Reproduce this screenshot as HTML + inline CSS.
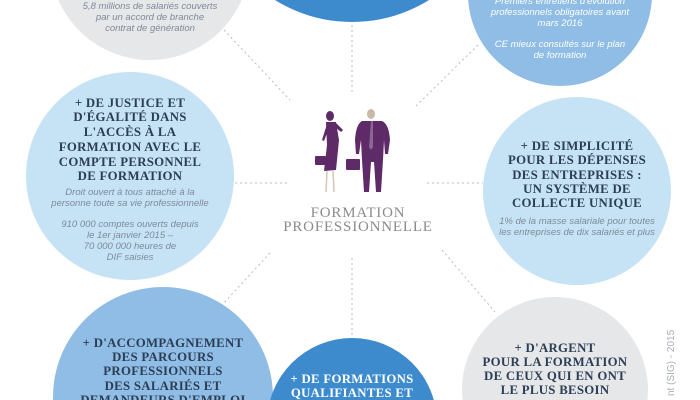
<!DOCTYPE html>
<html><head><meta charset="utf-8"><style>
html,body{margin:0;padding:0;background:#fff;width:700px;height:400px;overflow:hidden}
svg{display:block;overflow:hidden}
.h{font-family:"Liberation Serif",serif;font-weight:bold;font-size:12.8px;fill:#2c3e55;text-anchor:middle;letter-spacing:0.3px}
.hw{fill:#fff}
.i{font-family:"Liberation Sans",sans-serif;font-style:italic;font-size:9.5px;fill:#7d8a99;text-anchor:middle}
.iw{fill:#fff}
.d{stroke:#b8bcc2;stroke-width:1;stroke-dasharray:2,3;fill:none}
</style></head><body>
<svg width="700" height="400" viewBox="0 0 700 400" xmlns="http://www.w3.org/2000/svg">
<line class="d" x1="224" y1="30" x2="290" y2="100"/>
<line class="d" x1="352" y1="25" x2="352" y2="95"/>
<line class="d" x1="478" y1="45" x2="415" y2="107"/>
<line class="d" x1="235" y1="183" x2="290" y2="183"/>
<line class="d" x1="427" y1="183" x2="483" y2="183"/>
<line class="d" x1="270" y1="253" x2="222" y2="305"/>
<line class="d" x1="352" y1="258" x2="352" y2="335"/>
<line class="d" x1="442" y1="250" x2="495" y2="312"/>

<circle cx="150" cy="-40" r="100" fill="#e6e7e9"/>
<circle cx="352" cy="-124" r="146" fill="#3d8bcd"/>
<circle cx="560" cy="-6" r="92" fill="#8fbde6"/>
<circle cx="130" cy="176" r="104" fill="#c6e3f6"/>
<circle cx="577" cy="191" r="94" fill="#c6e3f6"/>
<circle cx="163" cy="397" r="110" fill="#8fbde6"/>
<circle cx="352" cy="423" r="85" fill="#3d8bcd"/>
<circle cx="555" cy="390" r="93" fill="#e6e7e9"/>

<text class="i" x="150" y="9">5,8 millions de salariés couverts</text>
<text class="i" x="150" y="20">par un accord de branche</text>
<text class="i" x="150" y="31">contrat de génération</text>

<text class="i iw" x="560" y="4">Premiers entretiens d'évolution</text>
<text class="i iw" x="560" y="15">professionnels obligatoires avant</text>
<text class="i iw" x="560" y="26">mars 2016</text>
<text class="i iw" x="560" y="47">CE mieux consultés sur le plan</text>
<text class="i iw" x="560" y="58">de formation</text>

<text class="h" x="130" y="107">+ DE JUSTICE ET</text>
<text class="h" x="130" y="121">D'ÉGALITÉ DANS</text>
<text class="h" x="130" y="136">L'ACCÈS À LA</text>
<text class="h" x="130" y="151">FORMATION AVEC LE</text>
<text class="h" x="130" y="166">COMPTE PERSONNEL</text>
<text class="h" x="130" y="180">DE FORMATION</text>
<text class="i" x="130" y="195">Droit ouvert à tous attaché à la</text>
<text class="i" x="130" y="206">personne toute sa vie professionnelle</text>
<text class="i" x="130" y="227">910 000 comptes ouverts depuis</text>
<text class="i" x="130" y="238">le 1er janvier 2015 –</text>
<text class="i" x="130" y="249">70 000 000 heures de</text>
<text class="i" x="130" y="260">DIF saisies</text>

<text class="h" x="577" y="150">+ DE SIMPLICITÉ</text>
<text class="h" x="577" y="164">POUR LES DÉPENSES</text>
<text class="h" x="577" y="179">DES ENTREPRISES :</text>
<text class="h" x="577" y="193">UN SYSTÈME DE</text>
<text class="h" x="577" y="207">COLLECTE UNIQUE</text>
<text class="i" x="577" y="224">1% de la masse salariale pour toutes</text>
<text class="i" x="577" y="235">les entreprises de dix salariés et plus</text>

<text class="h" x="163" y="347">+ D'ACCOMPAGNEMENT</text>
<text class="h" x="163" y="361">DES PARCOURS</text>
<text class="h" x="163" y="375">PROFESSIONNELS</text>
<text class="h" x="163" y="390">DES SALARIÉS ET</text>
<text class="h" x="163" y="404">DEMANDEURS D'EMPLOI</text>

<text class="h hw" x="352" y="383">+ DE  FORMATIONS</text>
<text class="h hw" x="352" y="397">QUALIFIANTES ET</text>

<text class="h" x="555" y="352">+ D'ARGENT</text>
<text class="h" x="555" y="366">POUR LA FORMATION</text>
<text class="h" x="555" y="380">DE CEUX QUI EN ONT</text>
<text class="h" x="555" y="394">LE PLUS BESOIN</text>

<text x="674" y="396" transform="rotate(-90 674 396)" font-family="Liberation Sans,sans-serif" font-size="10" fill="#a8adb3">nt (SIG) - 2015</text>

<g fill="#5e2a67">
  <ellipse cx="330" cy="116" rx="4" ry="5"/>
  <path d="M326 122 L336 122 L339 140 L336 170 L324 171 L327 145 Z"/>
  <path d="M336 123 L343 130 L341 132 L335 127 Z"/>
  <path d="M327 124 L322 140 L324 141 L329 128 Z"/>
  <rect x="315" y="156" width="11" height="9" rx="1"/>
  <ellipse cx="371" cy="114" rx="4" ry="5" fill="#c9b9a8"/>
  <path d="M362 121 L382 121 Q389 124 390 140 L388 154 L385 154 L384 140 L383 160 L381 192 L376 192 L374 162 L371 162 L369 192 L364 192 L362 160 L361 140 L359 154 L356 154 L355 140 Q356 124 362 121 Z"/>
  <rect x="346" y="159" width="14" height="11" rx="1"/>
</g>
<path d="M371 121 L373 121 L373 147 L371 150 L369 147 Z" fill="#8b6594"/>
<g stroke="#d6c6b5" stroke-width="1.5">
  <line x1="327" y1="171" x2="326" y2="192"/>
  <line x1="333" y1="171" x2="334" y2="192"/>
</g>

<text x="358" y="217" text-anchor="middle" font-family="Liberation Serif,serif" font-size="15" fill="#8c8c8c" letter-spacing="0.8">FORMATION</text>
<text x="358" y="231" text-anchor="middle" font-family="Liberation Serif,serif" font-size="15" fill="#8c8c8c" letter-spacing="0.8">PROFESSIONNELLE</text>
</svg>
</body></html>
